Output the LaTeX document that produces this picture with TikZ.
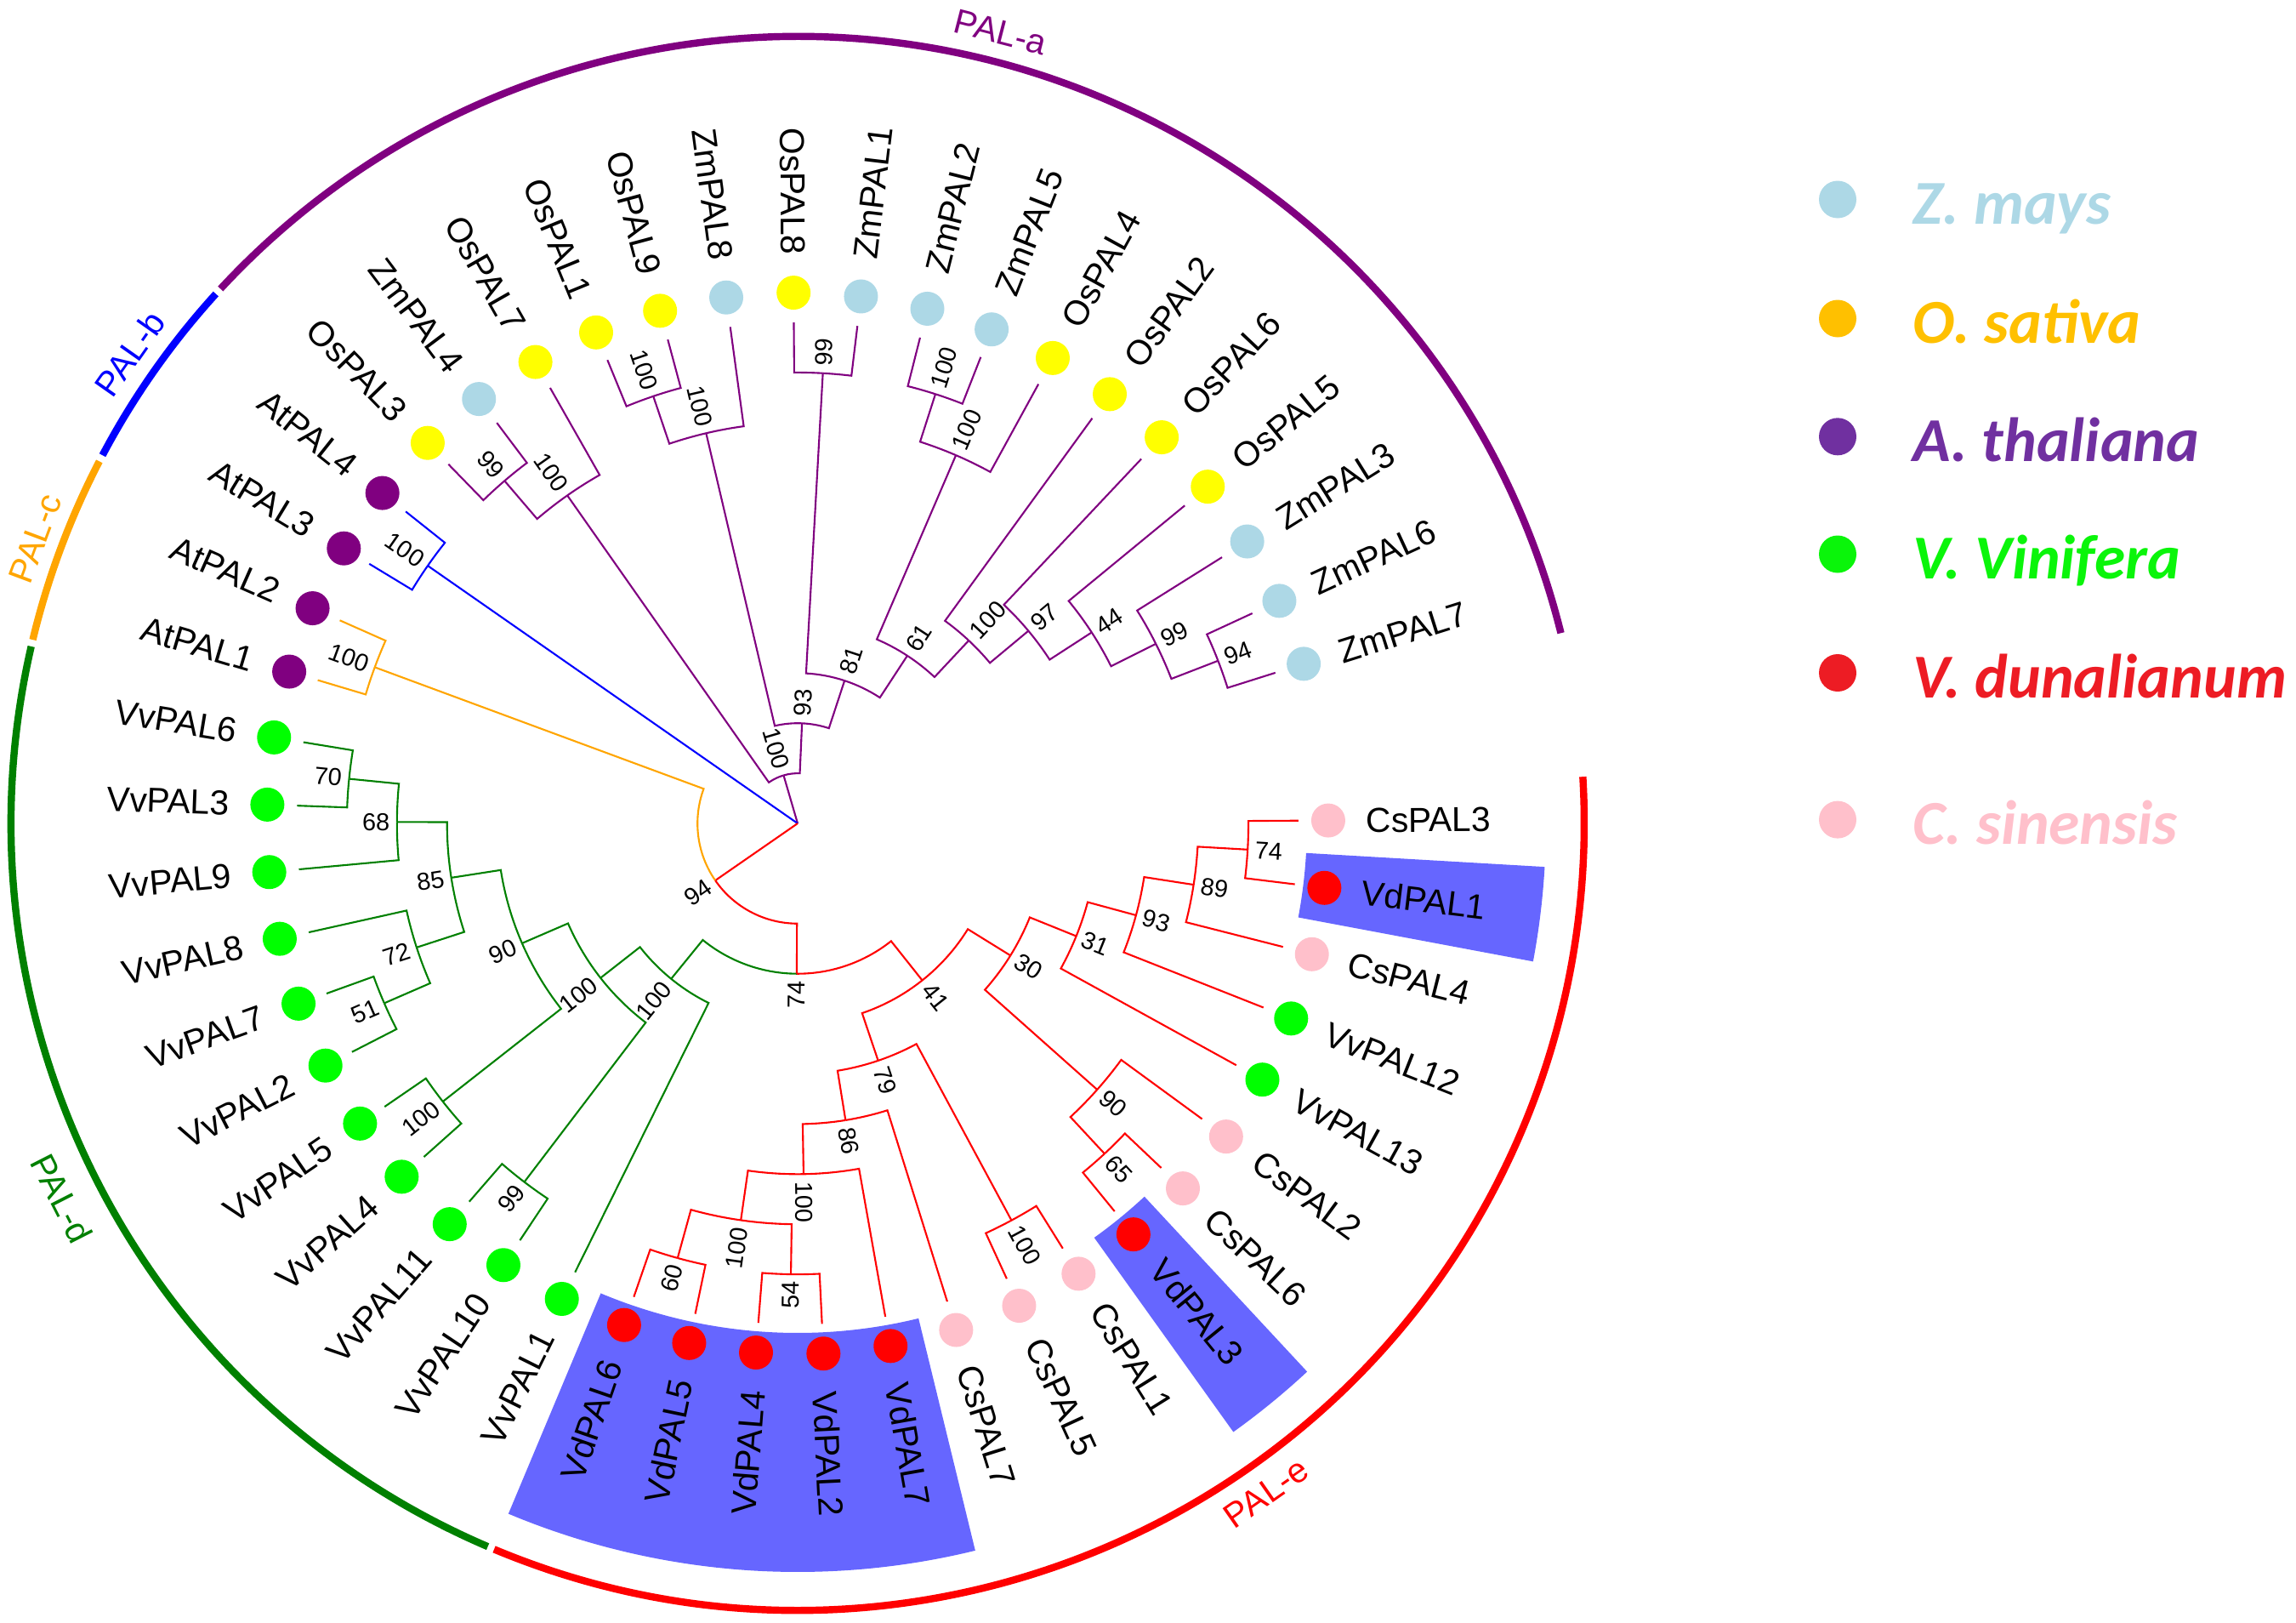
\documentclass[tikz,border=0pt]{standalone}
\usepackage{fontspec}
\setmainfont{Liberation Sans}
\newfontfamily\legendfont{Carlito}
\usetikzlibrary{calc}

\definecolor{zm}{RGB}{173,216,230}
\definecolor{os}{RGB}{255,255,0}
\definecolor{at}{RGB}{128,0,128}
\definecolor{vv}{RGB}{0,255,0}
\definecolor{vd}{RGB}{255,0,0}
\definecolor{cs}{RGB}{255,192,203}
\definecolor{pala}{RGB}{128,0,128}
\definecolor{palb}{RGB}{0,0,255}
\definecolor{palc}{RGB}{255,165,0}
\definecolor{pald}{RGB}{0,128,0}
\definecolor{pale}{RGB}{255,0,0}
\definecolor{hilite}{RGB}{102,102,255}
\definecolor{lgzm}{RGB}{173,216,230}
\definecolor{lgos}{RGB}{255,192,0}
\definecolor{lgat}{RGB}{112,48,160}
\definecolor{lgvv}{RGB}{10,245,10}
\definecolor{lgvd}{RGB}{237,28,36}
\definecolor{lgcs}{RGB}{255,192,203}

\newcommand{\clade}[4]{%
  \pgfmathsetmacro\angA{17.5+7.294*(#2)}%
  \pgfmathsetmacro\radA{0.589*(#3)}%
  \pgfmathsetmacro\labR{0.589*(#3)+0.08}%
  \pgfmathtruncatemacro\sideA{cos(\angA)<0}%
  \pgfmathsetmacro\rotA{\sideA==1 ? \angA-180 : \angA}%
  \coordinate (#1) at (\angA:\radA);
  \ifnum\sideA=1
    \node[bootlab,anchor=east,rotate=\rotA] (b#1) at (\angA:\labR) {#4};
  \else
    \node[bootlab,anchor=west,rotate=\rotA] (b#1) at (\angA:\labR) {#4};
  \fi}

\newcommand{\tip}[3]{%
  \pgfmathsetmacro\angA{17.5+7.294*(#3)}%
  \pgfmathtruncatemacro\sideA{cos(\angA)<0}%
  \pgfmathsetmacro\rotA{\sideA==1 ? \angA-180 : \angA}%
  \coordinate (#1) at (\angA:5.89);
  \node[tipdot,fill=#2] (d#1) at (\angA:6.24) {};
  \ifnum\sideA=1
    \node[tiplab,anchor=east,rotate=\rotA] (l#1) at (\angA:6.68) {#1};
  \else
    \node[tiplab,anchor=west,rotate=\rotA] (l#1) at (\angA:6.68) {#1};
  \fi}

\newcommand{\twig}[3]{%
  \draw[twigline,#1] let \p1=(#2), \p2=(#3),
    \n1={atan2(\y1,\x1)}, \n2={atan2(\y2,\x2)},
    \n3={veclen(\x1,\y1)}, \n4={mod(\n2-(\n1)+540,360)-180}
    in (#2) arc[start angle=\n1, delta angle=\n4, radius=\n3] -- (#3);}

\begin{document}
\begin{tikzpicture}
\tikzset{twigline/.style={line width=0.6pt,line join=miter}}
\tikzset{tipdot/.style={circle,inner sep=0pt,minimum size=0.4cm}}
\tikzset{tiplab/.style={inner sep=0pt,font=\fontsize{11.6}{13}\selectfont}}
\tikzset{bootlab/.style={inner sep=0pt,font=\fontsize{8.2}{9}\selectfont}}
\tikzset{cladearc/.style={line width=2.4pt}}
\tikzset{cladelab/.style={inner sep=0pt,font=\fontsize{11.6}{13}\selectfont}}
\tikzset{legdot/.style={circle,inner sep=0pt,minimum size=0.44cm}}
\tikzset{legtxt/.style={inner sep=0pt,font=\legendfont\bfseries\itshape\fontsize{20.9}{24}\selectfont}}

\useasboundingbox (-9.38,-9.39) rectangle (17.62,9.68);

\foreach \a/\b in {349.37/356.67, 305.61/312.91, 247.26/283.73}
  \fill[hilite] (\a:5.99) arc[start angle=\a,end angle=\b,radius=5.99]
    -- (\b:8.80) arc[start angle=\b,end angle=\a,radius=8.80] -- cycle;

\coordinate (root) at (0,0);

\foreach \nm/\sp [count=\i from 0] in {ZmPAL7/zm, ZmPAL6/zm, ZmPAL3/zm, OsPAL5/os,
  OsPAL6/os, OsPAL2/os, OsPAL4/os, ZmPAL5/zm, ZmPAL2/zm, ZmPAL1/zm, OsPAL8/os,
  ZmPAL8/zm, OsPAL9/os, OsPAL1/os, OsPAL7/os, ZmPAL4/zm, OsPAL3/os, AtPAL4/at,
  AtPAL3/at, AtPAL2/at, AtPAL1/at, VvPAL6/vv, VvPAL3/vv, VvPAL9/vv, VvPAL8/vv,
  VvPAL7/vv, VvPAL2/vv, VvPAL5/vv, VvPAL4/vv, VvPAL11/vv, VvPAL10/vv, VvPAL1/vv,
  VdPAL6/vd, VdPAL5/vd, VdPAL4/vd, VdPAL2/vd, VdPAL7/vd, CsPAL7/cs, CsPAL5/cs,
  CsPAL1/cs, VdPAL3/vd, CsPAL6/cs, CsPAL2/cs, VvPAL13/vv, VvPAL12/vv, CsPAL4/cs,
  VdPAL1/vd, CsPAL3/cs}
  {\tip{\nm}{\sp}{\i}}

\clade{a94}{0.5}{9}{94}
\clade{a99}{1.25}{8}{99}
\clade{a44}{2.125}{7}{44}
\clade{a97}{3.0625}{6}{97}
\clade{a100c}{4.03125}{5}{100}
\clade{a100d}{7.5}{9}{100}
\clade{a100e}{6.75}{8}{100}
\clade{a61}{5.390625}{4}{61}
\clade{a99b}{9.5}{9}{99}
\clade{a81}{7.4453}{3}{81}
\clade{a100f}{12.5}{9}{100}
\clade{a100g}{11.75}{8}{100}
\clade{a93}{9.5977}{2}{93}
\clade{a99c}{15.5}{9}{99}
\clade{a100h}{14.75}{8}{100}
\clade{aroot}{12.1738}{1}{100}
\clade{b100}{17.5}{9}{100}
\clade{c100}{19.5}{9}{100}
\clade{d70}{21.5}{9}{70}
\clade{d68}{22.25}{8}{68}
\clade{d51}{25.5}{9}{51}
\clade{d72}{24.75}{8}{72}
\clade{d85}{23.5}{7}{85}
\clade{d100a}{27.5}{9}{100}
\clade{d90}{25.5}{6}{90}
\clade{d99}{29.5}{9}{99}
\clade{d100b}{27.5}{5}{100}
\clade{droot}{29.25}{4}{100}
\clade{e60}{32.5}{9}{60}
\clade{e54}{34.5}{9}{54}
\clade{e100b}{33.5}{8}{100}
\clade{e100a}{34.75}{7}{100}
\clade{e86}{35.875}{6}{86}
\clade{e100cs}{38.5}{9}{100}
\clade{e79}{37.1875}{5}{79}
\clade{e65}{40.5}{9}{65}
\clade{e90}{41.25}{8}{90}
\clade{e74}{46.5}{9}{74}
\clade{e89}{45.75}{8}{89}
\clade{e93}{44.875}{7}{93}
\clade{e31}{43.9375}{6}{31}
\clade{e30}{42.59375}{5}{30}
\clade{eroot}{39.890625}{4}{41}
\clade{n74}{34.5703}{3}{74}
\clade{n94}{27.035}{2}{94}

\draw[twigline,pala] (root) -- (aroot);
\draw[twigline,palb] (root) -- (b100);
\draw[twigline,pale] (root) -- (n94);

\foreach \mom/\kid in {aroot/a100h, aroot/a93, a100h/OsPAL7, a100h/a99c,
  a99c/ZmPAL4, a99c/OsPAL3, a93/a100g, a93/a81, a100g/ZmPAL8, a100g/a100f,
  a100f/OsPAL9, a100f/OsPAL1, a81/a99b, a81/a61, a99b/ZmPAL1, a99b/OsPAL8,
  a61/a100e, a61/a100c, a100e/OsPAL4, a100e/a100d, a100d/ZmPAL5, a100d/ZmPAL2,
  a100c/OsPAL2, a100c/a97, a97/OsPAL6, a97/a44, a44/OsPAL5, a44/a99,
  a99/ZmPAL3, a99/a94, a94/ZmPAL6, a94/ZmPAL7}
  {\twig{pala}{\mom}{\kid}}

\foreach \mom/\kid in {b100/AtPAL4, b100/AtPAL3}
  {\twig{palb}{\mom}{\kid}}

\foreach \mom/\kid in {n94/c100, c100/AtPAL2, c100/AtPAL1}
  {\twig{palc}{\mom}{\kid}}

\foreach \mom/\kid in {n74/droot, droot/d100b, droot/VvPAL1, d100b/d90,
  d100b/d99, d99/VvPAL11, d99/VvPAL10, d90/d85, d90/d100a, d100a/VvPAL5,
  d100a/VvPAL4, d85/d68, d85/d72, d68/d70, d68/VvPAL9, d70/VvPAL6,
  d70/VvPAL3, d72/VvPAL8, d72/d51, d51/VvPAL7, d51/VvPAL2}
  {\twig{pald}{\mom}{\kid}}

\foreach \mom/\kid in {n94/n74, n74/eroot, eroot/e79, eroot/e30, e79/e86,
  e79/e100cs, e100cs/CsPAL5, e100cs/CsPAL1, e86/e100a, e86/CsPAL7,
  e100a/e100b, e100a/VdPAL7, e100b/e60, e100b/e54, e60/VdPAL6, e60/VdPAL5,
  e54/VdPAL4, e54/VdPAL2, e30/e90, e30/e31, e90/e65, e90/CsPAL2,
  e65/VdPAL3, e65/CsPAL6, e31/VvPAL13, e31/e93, e93/VvPAL12, e93/e89,
  e89/CsPAL4, e89/e74, e74/VdPAL1, e74/CsPAL3}
  {\twig{pale}{\mom}{\kid}}

\foreach \col/\a/\b in {pala/14.0/137.2, palb/137.7/152.1, palc/152.6/166.5,
  pald/167.0/246.8, pale/247.3/363.4}
  \draw[cladearc,\col] (\a:9.25) arc[start angle=\a,end angle=\b,radius=9.25];

\node[cladelab,text=pala,rotate=-14.4] (palA) at (75.6:9.60) {PAL-a};
\node[cladelab,text=palb,rotate=54.9] (palB) at (144.9:9.60) {PAL-b};
\node[cladelab,text=palc,rotate=69.5] (palC) at (159.5:9.57) {PAL-c};
\node[cladelab,text=pald,rotate=-63] (palD) at (207.0:9.71) {PAL-d};
\node[cladelab,text=pale,rotate=35] (palE) at (305.0:9.61) {PAL-e};

\foreach \col/\txt/\yy [count=\k] in {lgzm/Z. mays/7.335, lgos/O. sativa/5.935,
  lgat/A. thaliana/4.547, lgvv/V. Vinifera/3.165, lgvd/V. dunalianum/1.77,
  lgcs/C. sinensis/0.044}
  {\node[legdot,fill=\col] (key\k) at (12.23,\yy) {};
   \node[legtxt,text=\col,anchor=base west] (name\k) at (13.11,\yy-0.29) {\txt};}
\end{tikzpicture}
\end{document}
